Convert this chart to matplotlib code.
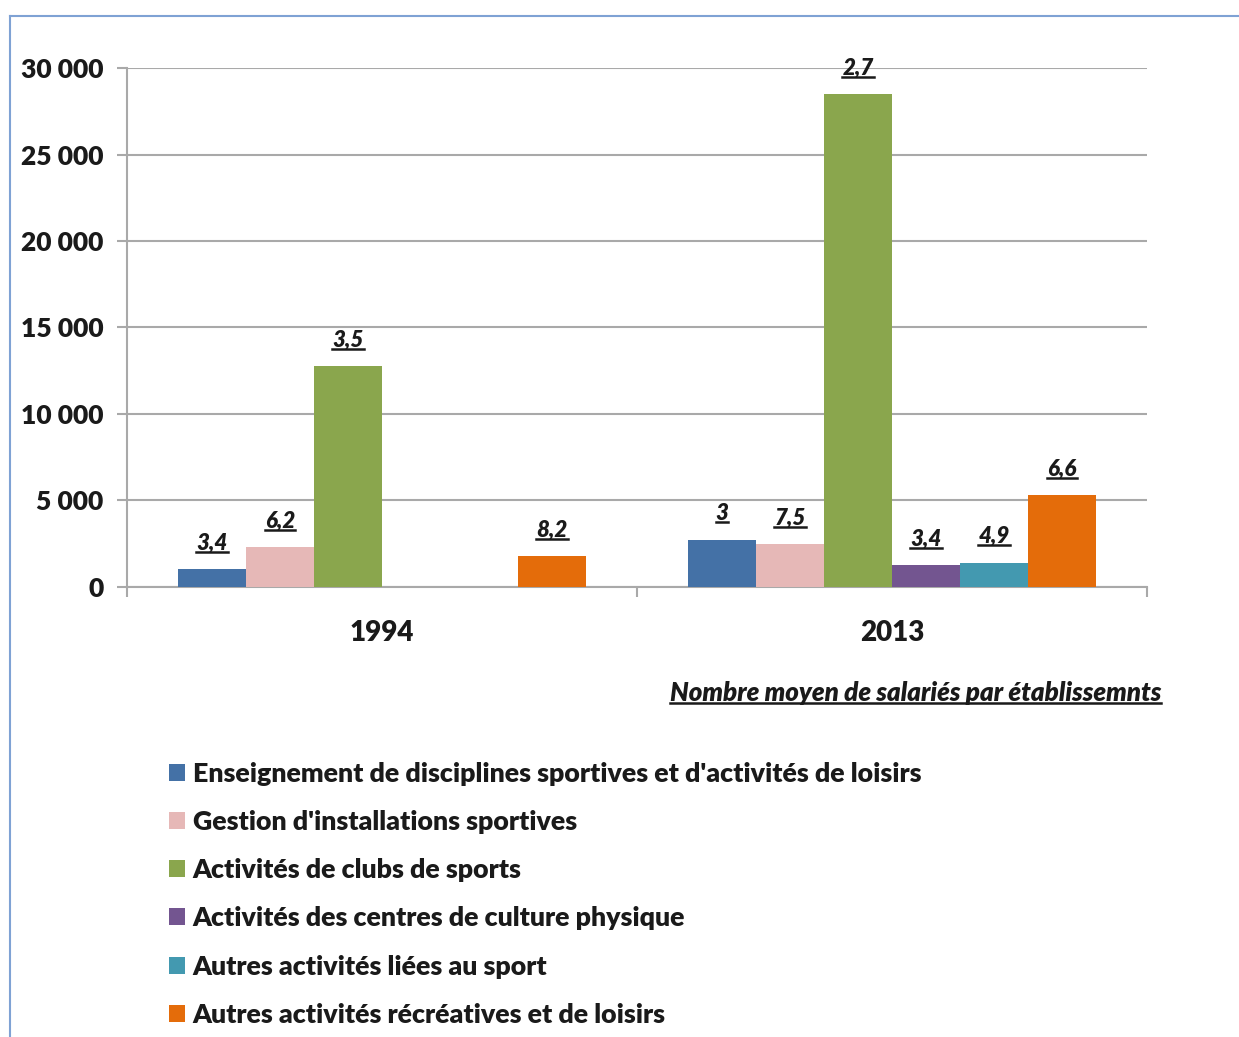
import numpy as np
import matplotlib
matplotlib.use('Agg')
import matplotlib.pyplot as plt
from matplotlib.lines import Line2D

# données
years = ['1994', '2013']
series = [
    "Enseignement de disciplines sportives et d'activités de loisirs",
    "Gestion d'installations sportives",
    "Activités de clubs de sports",
    "Activités des centres de culture physique",
    "Autres activités liées au sport",
    "Autres activités récréatives et de loisirs",
]
values_1994 = [1050, 2300, 12780, np.nan, np.nan, 1780]
values_2013 = [2740, 2490, 28500, 1240, 1410, 5300]
labels_1994 = ['3,4', '6,2', '3,5', None, None, '8,2']
labels_2013 = ['3', '7,5', '2,7', '3,4', '4,9', '6,6']
colors = ['#4471a6', '#e6b8b7', '#8aa64d', '#735590', '#4399b0', '#e46c0a']
yticks = [0, 5000, 10000, 15000, 20000, 25000, 30000]
note = "Nombre moyen de salariés par établissemnts"

plt.rcParams['font.family'] = ['Lato', 'DejaVu Sans']
plt.rcParams['font.weight'] = 'heavy'
TXT = '#1a1a1a'

fig = plt.figure(figsize=(12.39, 10.37), dpi=100)
ax = fig.add_axes([0.1025, 0.434, 0.8232, 0.5004])

x = np.arange(len(years))
n = len(series)
w = 0.8 / n
bars = []
texts = []
for i in range(n):
    vals = [values_1994[i], values_2013[i]]
    labs = [labels_1994[i], labels_2013[i]]
    pos = x - 0.4 + w * (i + 0.5)
    b = ax.bar(pos, vals, width=w, color=colors[i], label=series[i], zorder=3)
    bars.append(b)
    for p, v, lab in zip(pos, vals, labs):
        if lab is None:
            continue
        t = ax.annotate(lab, (p, v), xytext=(0, 11), textcoords='offset points',
                        ha='center', va='bottom', fontsize=16, style='italic',
                        fontweight='heavy', color=TXT, zorder=4)
        texts.append(t)

ax.set_xlim(-0.5, 1.5)
ax.set_ylim(0, 30000)
ax.set_yticks(yticks)
ax.set_yticklabels([f"{v:,}".replace(',', ' ') for v in yticks], fontweight='heavy', color=TXT)
ax.yaxis.grid(True, color='#a9a9a9', linewidth=1.5, zorder=0)
ax.set_axisbelow(True)

ax.set_xticks([-0.5, 0.5, 1.5])
ax.set_xticklabels(['', '', ''])
ax.set_xticks(x, minor=True)
ax.set_xticklabels(years, minor=True, fontweight='heavy', color=TXT)
ax.tick_params(axis='x', which='major', length=7, width=1.5, color='#a9a9a9')
ax.tick_params(axis='x', which='minor', length=0, pad=24, labelsize=20)
ax.tick_params(axis='y', length=7, width=1.5, color='#a9a9a9', pad=10, labelsize=19)

for s in ['top', 'right']:
    ax.spines[s].set_visible(False)
for s in ['left', 'bottom']:
    ax.spines[s].set_color('#a9a9a9')
    ax.spines[s].set_linewidth(1.5)

note_t = fig.text(0.937, 0.332, note, ha='right', va='center', fontsize=18.6,
                  style='italic', fontweight='heavy', color=TXT)
texts.append(note_t)

leg = fig.legend(handles=bars, labels=series, loc='upper left',
                 bbox_to_anchor=(0.128, 0.2755), frameon=False,
                 prop={'size': 19.3, 'weight': 'heavy'},
                 handlelength=0.6, handleheight=0.6, handletextpad=0.27,
                 labelspacing=0.9, borderaxespad=0)
for t in leg.get_texts():
    t.set_color(TXT)

# soulignement des étiquettes
fig.canvas.draw()
r = fig.canvas.get_renderer()
W, H = fig.bbox.width, fig.bbox.height
for t in texts:
    bb = t.get_window_extent(r)
    yl = (bb.y0 + 2) / H
    fig.add_artist(Line2D([bb.x0 / W, bb.x1 / W], [yl, yl], color=TXT,
                          linewidth=1.8))

# cadre
fig.add_artist(Line2D([10 / W, 1], [1 - 16 / H, 1 - 16 / H], color='#7fa2d4', linewidth=1.5))
fig.add_artist(Line2D([10 / W, 10 / W], [0, 1 - 16 / H], color='#7fa2d4', linewidth=1.5))

fig.savefig('out.png', dpi=100)
